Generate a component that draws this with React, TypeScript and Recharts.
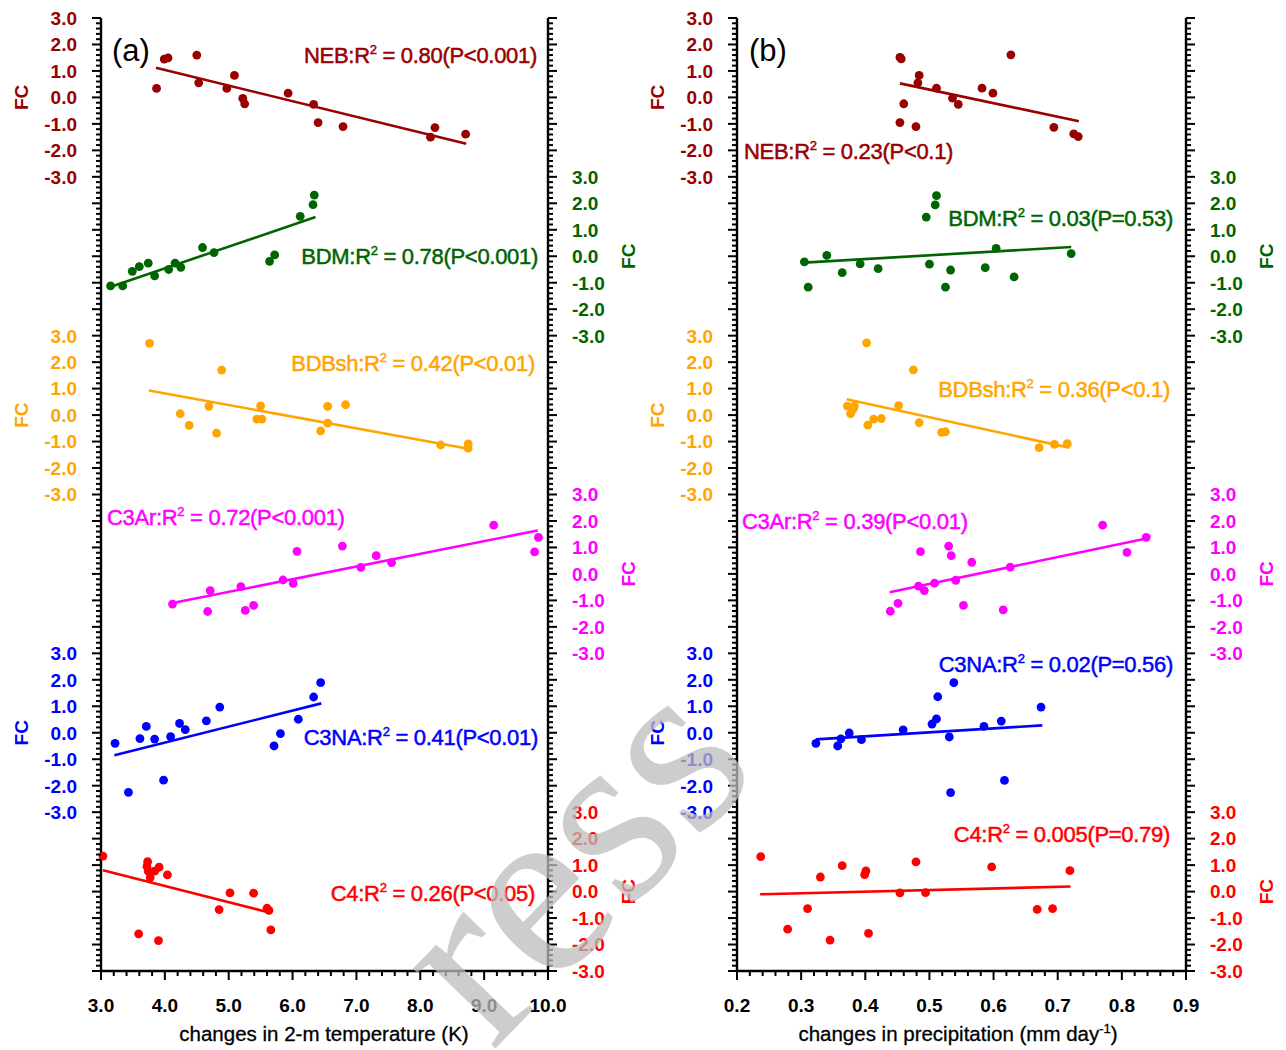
import React from "react";
import { ScatterChart, Scatter, XAxis, YAxis, ReferenceLine } from "recharts";

type Pt = [number, number];

// groups are stacked: each one gets 6 FC units of the shared y scale
const GROUPS = ["NEB", "BDM", "BDBsh", "C3Ar", "C3NA", "C4"];
const COLORS = ["#990000", "#006400", "#FFA500", "#FF00FF", "#0000FF", "#FF0000"];
const OFFSETS = [15, 9, 3, -3, -9, -15];
const SIDES = ["left", "right", "left", "right", "left", "right"];
const FC_TICKS = [3, 2, 1, 0, -1, -2, -3];

const TEMP_TICKS = [3, 4, 5, 6, 7, 8, 9, 10];
const PREC_TICKS = [0.2, 0.3, 0.4, 0.5, 0.6, 0.7, 0.8, 0.9];

// (a) FC vs changes in 2-m temperature
const nebTemp: Pt[] = [[3.87, 0.34], [3.99, 1.45], [4.05, 1.49], [4.5, 1.6], [4.53, 0.55], [4.97, 0.34], [5.09, 0.83], [5.22, -0.04], [5.25, -0.24], [5.93, 0.16], [6.33, -0.26], [6.4, -0.95], [6.79, -1.1], [8.16, -1.5], [8.23, -1.14], [8.71, -1.39]];
const bdmTemp: Pt[] = [[3.15, -1.12], [3.34, -1.12], [3.49, -0.57], [3.6, -0.39], [3.74, -0.26], [3.84, -0.74], [4.06, -0.5], [4.16, -0.26], [4.25, -0.42], [4.59, 0.33], [4.77, 0.14], [5.64, -0.19], [5.72, 0.05], [6.12, 1.51], [6.32, 1.95], [6.34, 2.31]];
const bdbshTemp: Pt[] = [[3.76, 2.71], [4.24, 0.05], [4.38, -0.39], [4.69, 0.33], [4.81, -0.68], [4.89, 1.7], [5.44, -0.15], [5.5, 0.35], [5.52, -0.15], [6.44, -0.6], [6.55, 0.33], [6.55, -0.3], [6.83, 0.39], [8.32, -1.13], [8.75, -1.09], [8.75, -1.25]];
const c3arTemp: Pt[] = [[4.12, -1.14], [4.67, -1.42], [4.71, -0.63], [5.19, -0.48], [5.26, -1.38], [5.39, -1.19], [5.85, -0.23], [6.01, -0.36], [6.07, 0.85], [6.78, 1.05], [7.07, 0.25], [7.31, 0.69], [7.55, 0.43], [9.15, 1.84], [9.79, 0.83], [9.85, 1.38]];
const c3naTemp: Pt[] = [[3.22, -0.4], [3.43, -2.25], [3.61, -0.22], [3.71, 0.24], [3.84, -0.24], [3.98, -1.79], [4.09, -0.15], [4.23, 0.35], [4.32, 0.12], [4.65, 0.45], [4.86, 0.97], [5.71, -0.5], [5.81, -0.03], [6.09, 0.51], [6.33, 1.35], [6.44, 1.89]];
const c4Temp: Pt[] = [[3.03, 1.34], [3.59, -1.6], [3.73, 1.13], [3.72, 0.95], [3.74, 0.77], [3.77, 0.53], [3.84, 0.77], [3.91, 0.92], [3.9, -1.85], [4.04, 0.63], [4.85, -0.68], [5.02, -0.05], [5.39, -0.06], [5.6, -0.63], [5.63, -0.71], [5.66, -1.45]];
const tempFits: Pt[][] = [
  [[3.86, 1.12], [8.72, -1.75]],
  [[3.12, -1.18], [6.36, 1.48]],
  [[3.75, 0.93], [8.77, -1.28]],
  [[4.1, -1.11], [9.84, 1.64]],
  [[3.21, -0.85], [6.45, 1.11]],
  [[3.03, 0.81], [5.62, -0.78]],
];
const tempR2 = ["0.80", "0.78", "0.42", "0.72", "0.41", "0.26"];
const tempP = ["P<0.001", "P<0.001", "P<0.01", "P<0.001", "P<0.01", "P<0.05"];

// (b) FC vs changes in precipitation
const nebPrec: Pt[] = [[0.454, 1.51], [0.456, 1.46], [0.46, -0.24], [0.454, -0.95], [0.479, -1.1], [0.482, 0.55], [0.484, 0.83], [0.511, 0.35], [0.536, -0.03], [0.545, -0.26], [0.582, 0.35], [0.599, 0.16], [0.627, 1.61], [0.694, -1.13], [0.725, -1.38], [0.732, -1.48]];
const bdmPrec: Pt[] = [[0.305, -0.21], [0.311, -1.17], [0.34, 0.03], [0.364, -0.62], [0.392, -0.29], [0.42, -0.47], [0.495, 1.48], [0.5, -0.3], [0.509, 1.94], [0.511, 2.29], [0.525, -1.17], [0.533, -0.52], [0.587, -0.43], [0.604, 0.3], [0.632, -0.78], [0.721, 0.1]];
const bdbshPrec: Pt[] = [[0.402, 2.73], [0.372, 0.34], [0.377, 0.05], [0.383, 0.34], [0.381, 0.22], [0.404, -0.38], [0.413, -0.15], [0.425, -0.13], [0.452, 0.36], [0.475, 1.71], [0.484, -0.29], [0.519, -0.65], [0.525, -0.63], [0.671, -1.23], [0.695, -1.11], [0.715, -1.08]];
const c3arPrec: Pt[] = [[0.439, -1.41], [0.451, -1.11], [0.483, -0.46], [0.486, 0.84], [0.492, -0.63], [0.508, -0.35], [0.53, 1.05], [0.534, 0.69], [0.541, -0.24], [0.553, -1.19], [0.566, 0.44], [0.615, -1.36], [0.626, 0.26], [0.77, 1.84], [0.808, 0.81], [0.838, 1.38]];
const c3naPrec: Pt[] = [[0.323, -0.4], [0.357, -0.5], [0.362, -0.23], [0.375, -0.01], [0.394, -0.26], [0.459, 0.11], [0.504, 0.33], [0.511, 0.52], [0.513, 1.36], [0.531, -0.16], [0.533, -2.26], [0.538, 1.89], [0.585, 0.24], [0.612, 0.44], [0.617, -1.8], [0.674, 0.97]];
const c4Prec: Pt[] = [[0.237, 1.32], [0.279, -1.42], [0.31, -0.64], [0.33, 0.55], [0.345, -1.83], [0.364, 0.98], [0.399, 0.64], [0.401, 0.78], [0.405, -1.58], [0.454, -0.05], [0.479, 1.12], [0.494, -0.04], [0.597, 0.93], [0.668, -0.67], [0.692, -0.64], [0.719, 0.79]];
const precFits: Pt[][] = [
  [[0.454, 0.53], [0.733, -0.9]],
  [[0.305, -0.24], [0.721, 0.35]],
  [[0.371, 0.6], [0.718, -1.23]],
  [[0.438, -0.69], [0.84, 1.35]],
  [[0.323, -0.25], [0.676, 0.28]],
  [[0.236, -0.1], [0.72, 0.19]],
];
const precR2 = ["0.23", "0.03", "0.36", "0.39", "0.02", "0.005"];
const precP = ["P<0.1", "P=0.53", "P<0.1", "P<0.01", "P=0.56", "P=0.79"];

const SANS = "'Liberation Sans', Arial, Helvetica, sans-serif";

// every 0.2 FC unit over the whole stacked range
const yTickValues: number[] = [];
for (let k = 0; k <= 180; k++) yTickValues.push(Math.round((-18 + k * 0.2) * 1000) / 1000);

function minorTicks(major: number[], parts: number) {
  const out: number[] = [];
  const step = (major[1] - major[0]) / parts;
  const n = (major.length - 1) * parts;
  for (let k = 0; k <= n; k++) out.push(Math.round((major[0] + k * step) * 10000) / 10000);
  return out;
}

function groupAt(v: number, side: string) {
  for (let i = 0; i < GROUPS.length; i++) {
    if (SIDES[i] === side && v >= OFFSETS[i] - 3.001 && v <= OFFSETS[i] + 3.001) return i;
  }
  return -1;
}

const YTick = (props: any) => {
  const { x, y, payload, side } = props;
  const v = payload.value;
  const major = Math.abs(v - Math.round(v)) < 1e-6;
  const dir = side === "left" ? -1 : 1;
  const g = major ? groupAt(v, side) : -1;
  const fc = g >= 0 ? Math.round(v - OFFSETS[g]) : 0;
  return (
    <g>
      <line x1={x} x2={x + dir * (major ? 9 : 5)} y1={y} y2={y} stroke="#000" strokeWidth={2} />
      {g >= 0 && FC_TICKS.includes(fc) && (
        <text x={x + dir * 24} y={y} dy="0.36em" textAnchor={side === "left" ? "end" : "start"}
          fill={COLORS[g]} fontSize={19} fontWeight="bold" fontFamily={SANS}>
          {fc.toFixed(1)}
        </text>
      )}
      {g >= 0 && fc === 0 && (
        <text x={x + dir * 80} y={y} textAnchor="middle" dy="0.36em" fill={COLORS[g]} fontSize={19}
          fontWeight="bold" fontFamily={SANS} transform={`rotate(-90 ${x + dir * 80} ${y})`}>
          FC
        </text>
      )}
    </g>
  );
};

const XTick = (props: any) => {
  const { x, y, payload, top, majorStep } = props;
  const v = payload.value;
  const r = v / majorStep;
  const major = Math.abs(r - Math.round(r)) < 1e-4;
  const dir = top ? -1 : 1;
  return (
    <g>
      <line x1={x} x2={x} y1={y} y2={y + dir * (major ? 9 : 5)} stroke="#000" strokeWidth={2} />
      {!top && major && (
        <text x={x} y={y + 34} dy="0.36em" textAnchor="middle" fill="#000" fontSize={19}
          fontWeight="bold" fontFamily={SANS}>
          {v.toFixed(1)}
        </text>
      )}
    </g>
  );
};

type PanelProps = {
  left: number;
  width: number;
  rightW: number;
  majors: number[];
  majorStep: number;
  data: Pt[][];
  fits: Pt[][];
};

function Panel({ left, width, rightW, majors, majorStep, data, fits }: PanelProps) {
  const xTicks = minorTicks(majors, 5);
  const domain: [number, number] = [majors[0], majors[majors.length - 1]];
  const axisLine = { stroke: "#000", strokeWidth: 2.4 };
  return (
    <div style={{ position: "absolute", left, top: 0 }}>
      <ScatterChart width={width} height={1050} margin={{ top: 18, right: 0, bottom: 0, left: 0 }}>
        <XAxis xAxisId="b" type="number" dataKey="x" domain={domain} ticks={xTicks} interval={0}
          height={79} tickSize={0} tickMargin={0} tickLine={false} axisLine={axisLine}
          tick={(p: any) => <XTick {...p} majorStep={majorStep} />} />
        <XAxis xAxisId="t" orientation="top" type="number" dataKey="x" domain={domain} ticks={xTicks}
          interval={0} height={0} tickSize={0} tickMargin={0} tickLine={false} axisLine={axisLine}
          tick={(p: any) => <XTick {...p} top majorStep={majorStep} />} />
        <YAxis yAxisId="L" type="number" dataKey="y" domain={[-18, 18]} ticks={yTickValues} interval={0}
          width={101} tickSize={0} tickMargin={0} tickLine={false} axisLine={axisLine}
          tick={(p: any) => <YTick {...p} side="left" />} />
        <YAxis yAxisId="R" orientation="right" type="number" dataKey="y" domain={[-18, 18]}
          ticks={yTickValues} interval={0} width={rightW} tickSize={0} tickMargin={0} tickLine={false}
          axisLine={axisLine} tick={(p: any) => <YTick {...p} side="right" />} />
        {GROUPS.map((name, i) => {
          const xId = SIDES[i] === "left" ? "b" : "t";
          const yId = SIDES[i] === "left" ? "L" : "R";
          const pts = data[i].map(([x, fc]) => ({ x, y: fc + OFFSETS[i] }));
          const f = fits[i];
          return (
            <React.Fragment key={name}>
              <ReferenceLine xAxisId={xId} yAxisId={yId} stroke={COLORS[i]} strokeWidth={2.6}
                segment={[{ x: f[0][0], y: f[0][1] + OFFSETS[i] }, { x: f[1][0], y: f[1][1] + OFFSETS[i] }]} />
              <Scatter name={name} data={pts} xAxisId={xId} yAxisId={yId} fill={COLORS[i]}
                isAnimationActive={false}
                shape={(p: any) => <circle cx={p.cx} cy={p.cy} r={4.4} fill={COLORS[i]} />} />
            </React.Fragment>
          );
        })}
      </ScatterChart>
    </div>
  );
}

const Note = ({ x, y, anchor, i, r2, p }: any) => (
  <text x={x} y={y} textAnchor={anchor} fill={COLORS[i]} stroke={COLORS[i]} strokeWidth={0.5}
    fontSize={22} fontFamily={SANS} letterSpacing={-0.3}>
    {GROUPS[i]}:R<tspan dy={-9} fontSize={13}>2</tspan>
    <tspan dy={9}>{` = ${r2}(${p})`}</tspan>
  </text>
);

const tempNotePos = [[537, 63, "end"], [538, 264, "end"], [535, 371, "end"], [107, 525, "start"], [538, 745, "end"], [535, 901, "end"]];
const precNotePos = [[744, 159, "start"], [1173, 226, "end"], [1170, 397, "end"], [742, 529, "start"], [1173, 672, "end"], [1170, 842, "end"]];

export default function App() {
  return (
    <div style={{ position: "absolute", left: 0, top: 0, width: 1286, height: 1050, background: "#fff" }}>
      <Panel left={0} width={640} rightW={92} majors={TEMP_TICKS} majorStep={1}
        data={[nebTemp, bdmTemp, bdbshTemp, c3arTemp, c3naTemp, c4Temp]} fits={tempFits} />
      <Panel left={636} width={650} rightW={100} majors={PREC_TICKS} majorStep={0.1}
        data={[nebPrec, bdmPrec, bdbshPrec, c3arPrec, c3naPrec, c4Prec]} fits={precFits} />
      <svg width={1286} height={1050} style={{ position: "absolute", left: 0, top: 0, pointerEvents: "none" }}>
        <text x={112} y={61} fontSize={31} fontFamily={SANS} fill="#000">(a)</text>
        <text x={749} y={61} fontSize={31} fontFamily={SANS} fill="#000">(b)</text>
        {tempNotePos.map(([x, y, a], i) => (
          <Note key={"t" + i} x={x} y={y} anchor={a} i={i} r2={tempR2[i]} p={tempP[i]} />
        ))}
        {precNotePos.map(([x, y, a], i) => (
          <Note key={"p" + i} x={x} y={y} anchor={a} i={i} r2={precR2[i]} p={precP[i]} />
        ))}
        <text x={324} y={1041} textAnchor="middle" fontSize={20.5} fontFamily={SANS} fill="#000"
          stroke="#000" strokeWidth={0.3}>
          changes in 2-m temperature (K)
        </text>
        <text x={958} y={1041} textAnchor="middle" fontSize={20.5} fontFamily={SANS} fill="#000"
          stroke="#000" strokeWidth={0.3}>
          changes in precipitation (mm day<tspan dy={-8} fontSize={13}>-1</tspan><tspan dy={8}>)</tspan>
        </text>
        <text x={492} y={1052} fontSize={250} fontFamily="'Liberation Serif', 'Times New Roman', serif"
          fill="#bcbcbc" fillOpacity={0.75} transform="rotate(-46 492 1052)">
          ress
        </text>
      </svg>
    </div>
  );
}
